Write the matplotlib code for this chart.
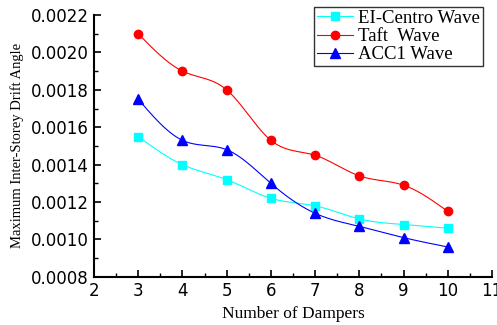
import numpy as np
import matplotlib
matplotlib.use("Agg")
import matplotlib.pyplot as plt
from matplotlib.ticker import MultipleLocator, FormatStrFormatter

# ── Data ─────────────────────────────────────────────
dampers = [3, 4, 5, 6, 7, 8, 9, 10]
elcentro = [0.00155, 0.00140, 0.00132, 0.00122, 0.00118, 0.00111, 0.00108, 0.00106]
taft = [0.00210, 0.00190, 0.00180, 0.00153, 0.00145, 0.00134, 0.00129, 0.00115]
acc1 = [0.00175, 0.00153, 0.00148, 0.00130, 0.00114, 0.00107, 0.00101, 0.00096]
labels = ["EI-Centro Wave", "Taft  Wave", "ACC1 Wave"]


def spline(x, y, n=300):
    # natural cubic spline for the connecting curve
    x = np.asarray(x, float)
    y = np.asarray(y, float)
    k = len(x)
    h = np.diff(x)
    A = np.zeros((k, k))
    b = np.zeros(k)
    A[0, 0] = A[-1, -1] = 1
    for i in range(1, k - 1):
        A[i, i - 1] = h[i - 1]
        A[i, i] = 2 * (h[i - 1] + h[i])
        A[i, i + 1] = h[i]
        b[i] = 6 * ((y[i + 1] - y[i]) / h[i] - (y[i] - y[i - 1]) / h[i - 1])
    M = np.linalg.solve(A, b)
    xs = np.linspace(x[0], x[-1], n)
    idx = np.clip(np.searchsorted(x, xs) - 1, 0, k - 2)
    x0, x1 = x[idx], x[idx + 1]
    hh = x1 - x0
    t0, t1 = x1 - xs, xs - x0
    ys = (M[idx] * t0**3 + M[idx + 1] * t1**3) / (6 * hh) \
        + (y[idx] / hh - M[idx] * hh / 6) * t0 \
        + (y[idx + 1] / hh - M[idx + 1] * hh / 6) * t1
    return xs, ys


fig = plt.figure(figsize=(4.97, 3.25), dpi=100)
ax = fig.add_axes([0.189, 0.148, 0.801, 0.806])

series = [
    (elcentro, "#00ffff", "s", 5.2),
    (taft, "#ff0000", "o", 6),
    (acc1, "#0000ff", "^", 6.5),
]
for (vals, color, marker, ms), lab in zip(series, labels):
    xs, ys = spline(dampers, vals)
    ax.plot(xs, ys, color=color, lw=0.8, zorder=2)
    ax.plot(dampers, vals, ls="none", marker=marker, ms=ms, color=color,
            zorder=3)
    ax.plot([], [], color=color, lw=0.8, marker=marker, ms=ms, label=lab)

ax.set_xlim(2, 11)
ax.set_ylim(0.0008, 0.0022)
ax.xaxis.set_major_locator(MultipleLocator(1))
ax.xaxis.set_minor_locator(MultipleLocator(0.5))
ax.yaxis.set_major_locator(MultipleLocator(0.0002))
ax.yaxis.set_minor_locator(MultipleLocator(0.0001))
ax.yaxis.set_major_formatter(FormatStrFormatter("%.4f"))

for side in ("top", "right"):
    ax.spines[side].set_visible(False)
for side in ("left", "bottom"):
    ax.spines[side].set_linewidth(1.5)
ax.tick_params(which="major", direction="in", length=5, width=1.2,
               labelsize=12, pad=3.5)
ax.tick_params(which="minor", direction="in", length=3, width=1.0)
for t in ax.get_xticklabels() + ax.get_yticklabels():
    t.set_fontfamily("DejaVu Sans")

ax.set_xlabel("Number of Dampers", family="Liberation Serif", fontsize=12.5)
ax.set_ylabel("Maximum Inter-Storey Drift Angle", family="Liberation Serif",
              fontsize=10.5)
ax.xaxis.set_label_coords(0.5, -0.11)
ax.yaxis.set_label_coords(-0.176, 0.5)

leg = ax.legend(loc="upper right", bbox_to_anchor=(0.977, 1.03),
                prop={"family": "Liberation Serif", "size": 13.5},
                frameon=True, fancybox=False, edgecolor="black",
                handlelength=1.9, handletextpad=0.3, borderpad=0.15,
                labelspacing=0.05, borderaxespad=0)
leg.get_frame().set_linewidth(1.0)

fig.savefig("out.png", dpi=100)
